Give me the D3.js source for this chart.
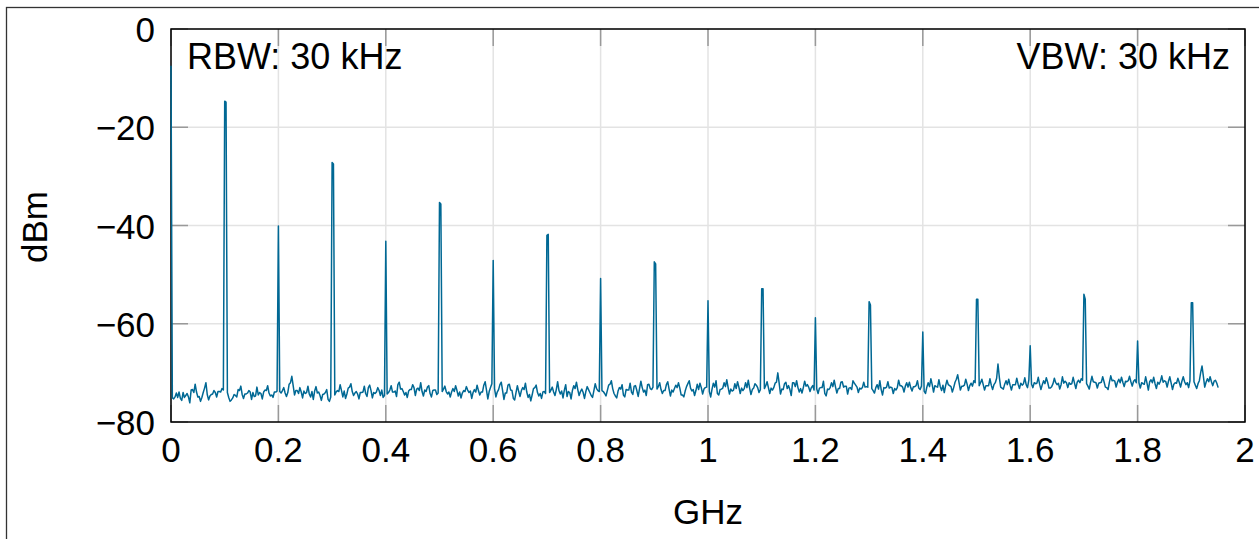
<!DOCTYPE html>
<html>
<head>
<meta charset="utf-8">
<script src="https://cdn.jsdelivr.net/npm/d3@7"></script>
<style>
  body { margin: 0; background: #fff; }
  text { font-family: "Liberation Sans", Arial, sans-serif; fill: #000; }
</style>
</head>
<body>
<svg id="chart"></svg>
<script>
// sweep: samples every 5 MHz from 0 to 1.95 GHz, plus the samples half-way between them
const sweepStepGHz = 0.005;

// noise floor on the 5 MHz grid, one row per 100 MHz band (20 samples each)
const noiseFloorDbm = [
  -74.8, -75.3, -74.1, -73.9, -75.6, -75.0, -74.2, -76.1, -73.4, -72.3, -74.9, -75.8, -74.0, -72.0, -75.5, -74.4, -73.6, -74.9, -73.8, -73.2,
  -73.6, -74.0, -75.8, -75.1, -74.6, -73.4, -72.7, -75.2, -74.3, -73.6, -75.4, -74.8, -72.9, -74.0, -75.3, -73.5, -72.6, -74.7, -75.0, -73.9,
  -73.5, -74.1, -73.0, -74.8, -72.3, -70.7, -74.5, -73.6, -73.0, -75.1, -74.2, -72.7, -74.9, -75.4, -72.8, -73.9, -75.6, -74.3, -73.4, -75.8,
  -74.0, -74.5, -73.6, -72.4, -74.9, -75.2, -73.1, -72.2, -74.6, -73.8, -75.3, -74.0, -72.7, -74.8, -72.5, -75.1, -74.2, -73.0, -74.6, -75.0,
  -74.8, -74.0, -72.6, -73.9, -74.8, -71.9, -73.2, -74.5, -75.0, -73.4, -72.4, -74.6, -73.1, -72.0, -74.7, -73.8, -72.6, -74.9, -73.5, -74.4,
  -73.5, -73.8, -72.7, -74.3, -74.9, -73.2, -72.6, -74.7, -75.1, -73.6, -72.8, -74.0, -75.2, -73.4, -72.5, -74.5, -73.9, -71.8, -75.3, -73.0,
  -71.6, -74.9, -73.4, -71.9, -75.4, -74.1, -72.3, -73.6, -75.5, -72.6, -74.8, -73.0, -72.1, -75.0, -75.7, -73.2, -72.5, -74.7, -75.2, -73.8,
  -73.9, -74.0, -72.9, -74.6, -71.8, -74.3, -75.1, -72.4, -73.8, -75.3, -72.6, -71.9, -74.6, -73.3, -75.2, -72.8, -74.0, -75.0, -72.2, -73.6,
  -73.5, -73.8, -74.7, -72.5, -71.6, -74.2, -75.1, -73.0, -72.4, -74.9, -73.5, -72.1, -74.4, -72.6, -74.8, -71.7, -73.9, -74.6, -72.3, -73.4,
  -72.6, -73.3, -72.0, -74.2, -73.6, -71.8, -74.7, -73.9, -72.5, -72.0, -74.5, -74.9, -72.8, -71.6, -73.7, -74.6, -72.3, -72.1, -74.3, -73.0,
  -72.8, -74.9, -72.1, -71.6, -74.5, -73.3, -72.0, -71.4, -74.3, -73.7, -72.2, -71.8, -74.2, -73.6, -72.0, -71.5, -74.4, -73.1, -72.5, -74.0,
  -73.0, -73.2, -71.8, -74.2, -73.5, -72.1, -70.0, -74.3, -73.4, -71.9, -72.6, -74.6, -72.0, -71.6, -73.9, -74.1, -71.7, -72.4, -73.8, -72.6,
  -72.6, -74.2, -73.0, -71.7, -74.7, -73.4, -72.0, -71.5, -74.1, -73.2, -71.8, -72.7, -74.3, -73.0, -71.6, -72.5, -74.0, -73.3, -71.9, -72.8,
  -73.0, -73.2, -74.1, -72.4, -71.6, -74.5, -73.1, -71.8, -72.9, -74.2, -73.5, -71.5, -72.6, -73.9, -72.0, -71.9, -73.7, -72.8, -71.6, -73.4,
  -73.3, -74.2, -72.0, -71.2, -73.9, -72.8, -71.4, -73.6, -74.0, -71.5, -72.6, -73.9, -71.9, -70.4, -73.5, -72.7, -71.3, -73.6, -72.1, -71.6,
  -72.3, -72.6, -71.3, -73.5, -72.6, -71.2, -73.4, -72.0, -68.2, -72.9, -73.3, -71.6, -71.3, -73.5, -72.4, -71.1, -73.2, -72.5, -71.0, -73.0,
  -71.6, -73.0, -72.2, -70.9, -73.4, -71.6, -71.0, -73.1, -72.8, -71.1, -72.4, -73.3, -70.8, -71.7, -73.0, -72.3, -70.9, -73.2, -71.5, -71.2,
  -71.8, -72.2, -73.3, -70.7, -71.9, -73.1, -72.0, -70.8, -72.9, -73.4, -70.6, -71.5, -72.9, -71.3, -70.9, -72.8, -71.8, -70.7, -72.7, -71.4,
  -71.0, -73.1, -72.2, -70.8, -73.5, -71.4, -70.9, -73.2, -72.3, -70.6, -71.6, -72.9, -70.8, -73.4, -72.0, -71.1, -72.9, -70.8, -72.4, -73.0,
  -71.5, -71.8, -73.2, -71.6, -68.6, -72.9, -71.2, -70.8, -72.6, -71.5, -73.0
];

// noise floor half-way between the grid samples (2.5 MHz offset)
const noiseFloorMidDbm = [
  -75.1, -74.9, -75.0, -75.2, -74.0, -74.6, -74.9, -73.5, -74.0, -73.9, -74.8, -75.0, -73.1, -74.4, -74.7, -74.3, -74.0, -73.8, -73.9, -73.5,
  -74.1, -75.0, -75.5, -74.4, -74.9, -73.6, -74.4, -74.3, -74.1, -73.9, -74.0, -74.7, -74.5, -74.2, -73.9, -73.6, -74.1, -74.5, -73.9, -73.7,
  -73.8, -73.6, -74.1, -74.0, -72.0, -72.6, -73.6, -74.2, -73.9, -73.7, -74.0, -74.3, -73.8, -73.7, -74.1, -74.6, -74.4, -74.0, -75.4, -74.9,
  -74.2, -73.9, -73.8, -73.6, -73.7, -74.3, -72.9, -73.8, -74.1, -74.3, -74.0, -73.9, -74.2, -73.0, -73.6, -74.0, -73.9, -73.6, -73.5, -74.6,
  -74.3, -73.5, -73.9, -73.7, -72.4, -73.3, -73.8, -74.0, -73.7, -73.4, -73.0, -73.3, -73.6, -73.8, -73.5, -72.9, -74.2, -73.6, -73.5, -74.1,
  -73.7, -73.3, -73.8, -73.9, -73.9, -73.8, -73.6, -73.9, -74.1, -73.8, -73.5, -73.7, -74.0, -73.9, -73.6, -73.9, -72.5, -73.5, -73.8, -72.2,
  -73.2, -73.9, -72.4, -73.6, -74.1, -72.5, -73.5, -75.2, -74.0, -73.8, -73.6, -73.4, -73.9, -74.4, -74.5, -73.0, -74.0, -74.2, -73.9, -74.2,
  -73.9, -73.5, -73.9, -73.4, -73.6, -73.7, -73.5, -74.8, -74.0, -73.6, -73.2, -73.4, -73.8, -74.0, -73.8, -73.4, -74.6, -73.6, -73.2, -73.8,
  -73.6, -74.2, -73.6, -72.3, -73.2, -74.7, -73.7, -73.3, -74.5, -73.4, -73.5, -73.9, -72.7, -73.6, -73.2, -73.0, -73.5, -72.4, -73.2, -72.9,
  -72.9, -72.8, -73.4, -73.6, -72.4, -73.3, -73.5, -73.2, -73.0, -73.1, -74.5, -73.7, -72.2, -73.1, -73.4, -73.6, -73.4, -73.0, -73.3, -72.9,
  -73.8, -73.3, -72.9, -74.2, -73.4, -73.1, -72.8, -73.0, -73.3, -73.5, -73.2, -72.9, -73.1, -73.2, -73.0, -73.1, -73.4, -72.2, -73.0, -73.4,
  -73.1, -72.6, -73.0, -73.1, -73.0, -71.9, -72.1, -73.3, -72.2, -73.2, -73.4, -72.0, -72.8, -73.0, -73.2, -73.0, -72.7, -72.9, -73.0, -73.5,
  -73.3, -73.1, -73.0, -74.2, -73.3, -73.0, -72.8, -72.9, -73.2, -71.9, -72.9, -72.7, -73.1, -73.4, -72.1, -72.9, -73.1, -73.0, -72.9, -72.9,
  -73.1, -73.6, -73.0, -73.3, -73.4, -73.0, -72.9, -73.1, -73.0, -73.2, -73.0, -72.6, -72.9, -72.7, -72.9, -73.0, -72.8, -72.6, -73.1, -72.7,
  -73.7, -72.9, -72.8, -72.4, -72.6, -72.9, -72.8, -72.5, -72.6, -72.4, -72.8, -73.0, -71.3, -72.0, -72.7, -72.5, -72.3, -72.6, -72.7, -72.0,
  -72.5, -72.0, -72.4, -72.6, -72.6, -72.5, -72.4, -71.1, -70.9, -73.1, -72.3, -72.4, -72.5, -72.4, -72.4, -72.3, -72.1, -72.2, -72.4, -71.4,
  -72.3, -72.0, -72.1, -72.3, -72.4, -72.2, -71.9, -73.1, -72.2, -72.0, -72.1, -72.4, -72.1, -72.0, -72.0, -72.2, -72.1, -71.9, -72.0, -71.5,
  -72.0, -72.7, -71.9, -71.8, -72.0, -72.1, -71.9, -71.8, -73.0, -71.9, -71.6, -71.7, -71.9, -72.0, -71.9, -71.7, -71.6, -71.8, -71.7, -72.0,
  -72.0, -72.0, -72.3, -72.1, -71.8, -72.0, -72.2, -71.9, -71.7, -71.9, -71.8, -71.7, -72.1, -72.3, -72.1, -71.9, -71.7, -71.8, -72.0, -71.6,
  -71.6, -72.5, -72.2, -69.9, -70.7, -71.9, -71.8, -71.8, -71.7, -72.1
];

// harmonic lines at multiples of 100 MHz
const harmonicGHz = [0, 0.1, 0.2, 0.3, 0.4, 0.5, 0.6, 0.7, 0.8, 0.9, 1.0, 1.1, 1.2, 1.3, 1.4, 1.5, 1.6, 1.7, 1.8, 1.9];
const harmonicDbm = [-7.5, -14.7, -40.1, -27.2, -43.2, -35.3, -47.1, -42.0, -50.8, -47.4, -55.3, -52.9, -58.8, -55.5, -61.7, -55.0, -64.5, -54.0, -63.5, -55.7];
// sample 2.5 MHz above the wider lines (null = single sample)
const harmonicNextDbm = [null, -14.9, null, -27.5, null, -35.6, null, -41.8, null, -47.8, null, -52.9, null, -56.2, null, -55.0, null, -55.0, null, -55.7];

const xTicks = [0, 0.2, 0.4, 0.6, 0.8, 1, 1.2, 1.4, 1.6, 1.8, 2];
const yTicks = [-80, -60, -40, -20, 0];

const width = 1259, height = 539;
const margin = {top: 29, right: 14, bottom: 117, left: 171};
const innerW = width - margin.left - margin.right;
const innerH = height - margin.top - margin.bottom;

const lineColor = '#006894';
const gridColor = '#e3e3e3';
const tickColor = '#999';

// build sample list: grid values with harmonics put in, then interleave the mid values
const gridVals = noiseFloorDbm.slice();
const midVals = noiseFloorMidDbm.slice();
harmonicGHz.forEach((f, k) => {
  const idx = Math.round(f / sweepStepGHz);
  gridVals[idx] = harmonicDbm[k];
  if (harmonicNextDbm[k] !== null) midVals[idx] = harmonicNextDbm[k];
});
const samples = [];
gridVals.forEach((v, i) => {
  samples.push({f: i * sweepStepGHz, v: v});
  if (i < midVals.length) samples.push({f: (i + 0.5) * sweepStepGHz, v: midVals[i]});
});

const svg = d3.select('#chart')
    .attr('width', width)
    .attr('height', height);

// outer frame (only left/top edges fall inside the picture)
svg.append('rect')
    .attr('x', 6.5).attr('y', 7.5)
    .attr('width', width + 20).attr('height', height + 20)
    .attr('fill', 'none')
    .attr('stroke', '#333')
    .attr('stroke-width', 1.3);

const chart = svg.append('g')
    .attr('transform', `translate(${margin.left},${margin.top})`);

const xScale = d3.scaleLinear().domain([0, 2]).range([0, innerW]);
const yScale = d3.scaleLinear().domain([-80, 0]).range([innerH, 0]);

// grid
chart.append('g').selectAll('line')
    .data(xTicks)
  .join('line')
    .attr('x1', d => xScale(d)).attr('x2', d => xScale(d))
    .attr('y1', 0).attr('y2', innerH)
    .attr('stroke', gridColor).attr('stroke-width', 1.5);

chart.append('g').selectAll('line')
    .data(yTicks)
  .join('line')
    .attr('x1', 0).attr('x2', innerW)
    .attr('y1', d => yScale(d)).attr('y2', d => yScale(d))
    .attr('stroke', gridColor).attr('stroke-width', 1.5);

// inward tick marks on all four sides
const tickLen = 17;
const tickG = chart.append('g')
    .attr('stroke', tickColor).attr('stroke-width', 1.5);
xTicks.forEach(d => {
  tickG.append('line').attr('x1', xScale(d)).attr('x2', xScale(d)).attr('y1', innerH).attr('y2', innerH - tickLen);
  tickG.append('line').attr('x1', xScale(d)).attr('x2', xScale(d)).attr('y1', 0).attr('y2', tickLen);
});
yTicks.forEach(d => {
  tickG.append('line').attr('x1', 0).attr('x2', tickLen).attr('y1', yScale(d)).attr('y2', yScale(d));
  tickG.append('line').attr('x1', innerW).attr('x2', innerW - tickLen).attr('y1', yScale(d)).attr('y2', yScale(d));
});

// frame (trace is drawn over it)
chart.append('rect')
    .attr('width', innerW).attr('height', innerH)
    .attr('fill', 'none')
    .attr('stroke', '#000')
    .attr('stroke-width', 1.5);

// trace
const line = d3.line()
    .x(d => xScale(d.f))
    .y(d => yScale(d.v));

chart.append('path')
    .datum(samples)
    .attr('fill', 'none')
    .attr('stroke', lineColor)
    .attr('stroke-width', 1.5)
    .attr('stroke-linejoin', 'round')
    .attr('d', line);

// tick labels
const fontSize = 35;
chart.append('g').selectAll('text')
    .data(xTicks)
  .join('text')
    .attr('x', d => xScale(d))
    .attr('y', innerH + 40)
    .attr('text-anchor', 'middle')
    .style('font-size', fontSize + 'px')
    .text(d => String(+d.toFixed(1)));

chart.append('g').selectAll('text')
    .data(yTicks)
  .join('text')
    .attr('x', -16)
    .attr('y', d => yScale(d) + 13)
    .attr('text-anchor', 'end')
    .style('font-size', fontSize + 'px')
    .text(d => d3.format('')(d));

// annotations
chart.append('text')
    .attr('x', 16).attr('y', 40)
    .style('font-size', '36px')
    .text('RBW: 30 kHz');

chart.append('text')
    .attr('x', innerW - 15).attr('y', 40)
    .attr('text-anchor', 'end')
    .style('font-size', '36px')
    .text('VBW: 30 kHz');

// axis titles
svg.append('text')
    .attr('x', margin.left + xScale(1)).attr('y', 524)
    .attr('text-anchor', 'middle')
    .style('font-size', fontSize + 'px')
    .text('GHz');

svg.append('text')
    .attr('transform', 'translate(47,227) rotate(-90)')
    .attr('text-anchor', 'middle')
    .style('font-size', fontSize + 'px')
    .text('dBm');
</script>
</body>
</html>
